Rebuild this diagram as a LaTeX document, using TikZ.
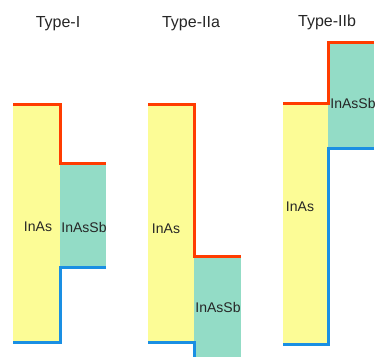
\documentclass[tikz,border=0pt]{standalone}
\usepackage{fontspec}
\setmainfont{Liberation Sans}
\definecolor{yel}{HTML}{FCFC96}
\definecolor{tea}{HTML}{93DCC6}
\definecolor{cbred}{HTML}{FF3C00}
\definecolor{vbblue}{HTML}{1A8FE3}
\begin{document}
\begin{tikzpicture}[x=1pt,y=-1pt,
  inas/.style={fill=yel},
  inassb/.style={fill=tea},
  cb/.style={draw=cbred,line width=3pt},
  vb/.style={draw=vbblue,line width=3pt},
  lbl/.style={font=\fontsize{14}{16}\selectfont,text=black!85,inner sep=0pt},
  ttl/.style={font=\fontsize{16}{19}\selectfont,text=black!85,inner sep=0pt}]
\clip (0,0) rectangle (379,356);
% Type-I
\fill[inas] (13,104) rectangle (60,342);
\fill[inassb] (60,163) rectangle (106,267);
\draw[cb] (13,104) -- (60,104) -- (60,163) -- (106,163);
\draw[vb] (106,267) -- (60,267) -- (60,342) -- (13,342);
\node[ttl] (t1) at (58,24) {Type-I};
\node[lbl] (a1) at (38,227) {InAs};
\node[lbl] (b1) at (84,227) {InAsSb};
% Type-IIa
\fill[inas] (148,104) rectangle (194,342);
\fill[inassb] (194,256) rectangle (241,360);
\draw[cb] (148,104) -- (194,104) -- (194,256) -- (241,256);
\draw[vb] (148,342) -- (194,342) -- (194,360);
\node[ttl] (t2) at (191,24) {Type-IIa};
\node[lbl] (a2) at (166,229) {InAs};
\node[lbl] (b2) at (218,307) {InAsSb};
% Type-IIb
\fill[inas] (283,103) rectangle (328,344);
\fill[inassb] (328,42) rectangle (374,148);
\draw[cb] (283,103) -- (328,103) -- (328,42) -- (374,42);
\draw[vb] (374,148) -- (328,148) -- (328,344) -- (283,344);
\node[ttl] (t3) at (327,22) {Type-IIb};
\node[lbl] (a3) at (300,207) {InAs};
\node[lbl] (b3) at (353,103) {InAsSb};
\end{tikzpicture}
\end{document}
